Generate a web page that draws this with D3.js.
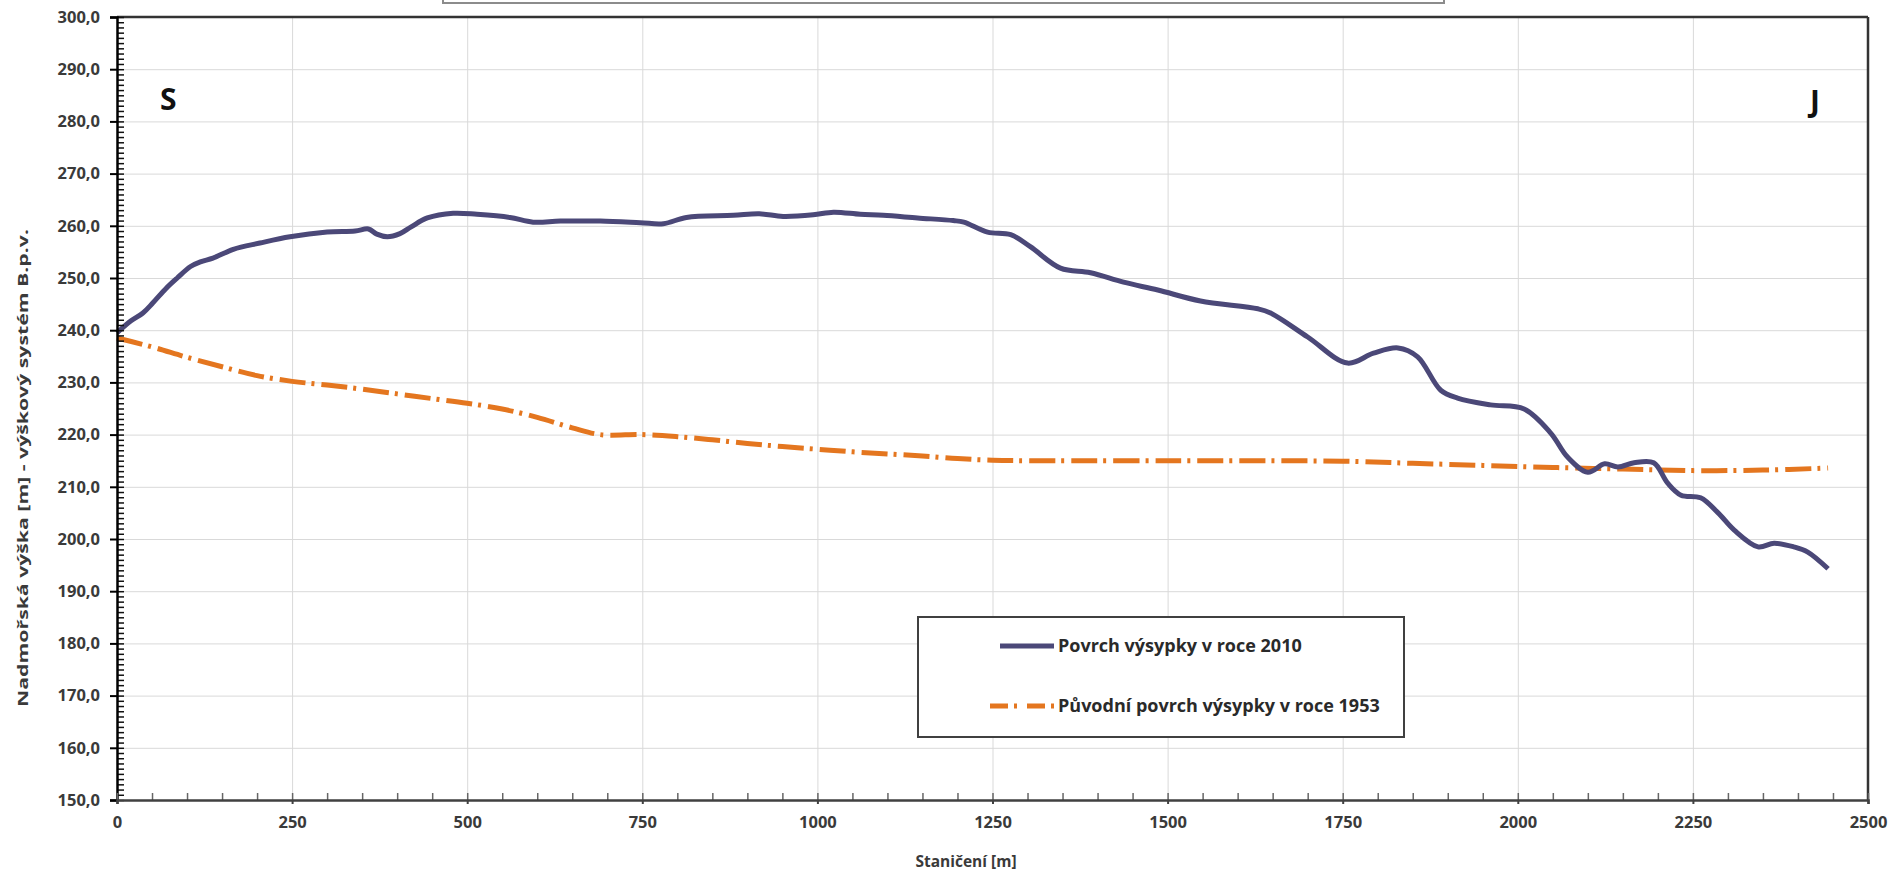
<!doctype html>
<html lang="cs">
<head>
<meta charset="utf-8">
<title>Profil výsypky</title>
<script src="https://d3js.org/d3.v7.min.js"></script>
<style>
  body { margin: 0; background: #fff; }
  text { font-family: "Open Sans", "DejaVu Sans", sans-serif; font-weight: bold; fill: #3a3a3a; }
  .grid line { stroke: #d9d9d9; stroke-width: 1; }
  .grid path { display: none; }
</style>
</head>
<body>
<svg id="chart" width="1893" height="872"></svg>
<script>
// povrch 2010 (stanicni, vyska)
var stations2010 = [0, 20, 37, 51, 70, 86, 105, 119, 137, 166, 204, 247, 300, 340, 359, 371, 386, 404, 420, 443,
  480, 514, 561, 594, 633, 690, 747, 780, 813, 880, 917, 951, 994, 1023, 1061, 1094, 1143, 1194, 1209, 1243,
  1276, 1304, 1347, 1390, 1437, 1486, 1547, 1629, 1647, 1700, 1757, 1794, 1829, 1857, 1890, 1914, 1961, 2009,
  2047, 2071, 2100, 2124, 2143, 2166, 2194, 2214, 2233, 2261, 2286, 2309, 2343, 2366, 2394, 2414, 2443];
var elev2010 = [239.5, 241.8, 243.3, 245.2, 248.0, 250.0, 252.2, 253.1, 253.8, 255.5, 256.7, 257.9, 258.8, 259.0, 259.4, 258.4, 257.9, 258.5, 259.8, 261.5,
  262.4, 262.2, 261.6, 260.7, 260.9, 260.9, 260.6, 260.4, 261.6, 262.0, 262.3, 261.8, 262.1, 262.6, 262.2, 262.0, 261.5, 261.0, 260.7, 258.8,
  258.3, 256.0, 251.9, 251.0, 249.2, 247.7, 245.6, 244.1, 243.3, 238.7, 233.7, 235.6, 236.6, 234.9, 228.5, 227.0, 225.7, 224.9,
  220.3, 215.7, 212.8, 214.4, 213.8, 214.6, 214.6, 210.7, 208.4, 207.9, 205.0, 201.7, 198.5, 199.2, 198.5, 197.5, 194.3];

// puvodni povrch 1953
var stations1953 = [0, 50, 100, 150, 200, 250, 300, 350, 400, 450, 500, 550, 600, 650, 690, 750, 800, 850, 900, 950,
  1000, 1050, 1100, 1150, 1200, 1250, 1300, 1500, 1750, 1850, 1950, 2050, 2150, 2250, 2350, 2443];
var elev1953 = [238.5, 236.8, 234.8, 233.0, 231.3, 230.2, 229.5, 228.7, 227.8, 226.9, 226.0, 224.9, 223.3, 221.3, 220.0, 220.0, 219.6, 219.0, 218.3, 217.7,
  217.2, 216.7, 216.3, 215.9, 215.4, 215.1, 215.0, 215.0, 214.9, 214.5, 214.1, 213.7, 213.4, 213.1, 213.2, 213.6];

var xTicks = [0, 250, 500, 750, 1000, 1250, 1500, 1750, 2000, 2250, 2500];
var yTicks = [150, 160, 170, 180, 190, 200, 210, 220, 230, 240, 250, 260, 270, 280, 290, 300];
var seriesNames = ["Povrch výsypky v roce 2010", "Původní povrch výsypky v roce 1953"];

var svg = d3.select("#chart");
var pLeft = 117, pTop = 17, pRight = 1868, pBottom = 800;

var x = d3.scaleLinear().domain([0, 2500]).range([pLeft, pRight]);
var y = d3.scaleLinear().domain([150, 300]).range([pBottom, pTop]);

// zbytek ramecku nadpisu nahore
svg.append("rect").attr("x", 443).attr("y", -20).attr("width", 1001).attr("height", 23)
  .attr("fill", "#fff").attr("stroke", "#8c8c8c").attr("stroke-width", 2);

// mrizka
svg.append("g").attr("class", "grid").attr("transform", "translate(0," + pBottom + ")")
  .call(d3.axisBottom(x).tickValues(xTicks.slice(1)).tickSize(-(pBottom - pTop)).tickFormat(""));
svg.append("g").attr("class", "grid").attr("transform", "translate(" + pLeft + ",0)")
  .call(d3.axisLeft(y).tickValues(yTicks.slice(1)).tickSize(-(pRight - pLeft)).tickFormat(""));

// horni a pravy okraj
svg.append("line").attr("x1", pLeft).attr("x2", pRight).attr("y1", pTop).attr("y2", pTop)
  .attr("stroke", "#333").attr("stroke-width", 2.5);
svg.append("line").attr("x1", pRight).attr("x2", pRight).attr("y1", pTop).attr("y2", pBottom)
  .attr("stroke", "#333").attr("stroke-width", 2.5);

// linie
var line = d3.line().x(function(d) { return x(d[0]); }).y(function(d) { return y(d[1]); })
  .curve(d3.curveCatmullRom.alpha(0.5));

svg.append("path").datum(d3.zip(stations1953, elev1953))
  .attr("d", line).attr("fill", "none").attr("stroke", "#e4761f").attr("stroke-width", 5)
  .attr("stroke-dasharray", "26,6,3,7");
svg.append("path").datum(d3.zip(stations2010, elev2010))
  .attr("d", line).attr("fill", "none").attr("stroke", "#4b4878").attr("stroke-width", 5)
  .attr("stroke-linejoin", "round");

// osa y
var minorY = d3.range(150, 301, 1);
svg.append("g").attr("transform", "translate(" + pLeft + ",0)")
  .call(d3.axisRight(y).tickValues(minorY).tickSize(7).tickFormat(""))
  .call(function(g) { g.select(".domain").remove(); g.selectAll("line").attr("stroke", "#111").attr("stroke-width", 1.5); });
var yAxis = svg.append("g").attr("transform", "translate(" + pLeft + ",0)")
  .call(d3.axisLeft(y).tickValues(yTicks).tickSize(7).tickPadding(10)
    .tickFormat(function(d) { return d.toFixed(1).replace(".", ","); }));
yAxis.select(".domain").attr("stroke", "#000").attr("stroke-width", 2.5);
yAxis.selectAll("line").attr("stroke", "#000").attr("stroke-width", 2);
yAxis.selectAll("text").attr("font-size", 16.5).style("fill", "#3a3a3a");

// osa x
var minorX = d3.range(0, 2501, 50);
svg.append("g").attr("transform", "translate(0," + pBottom + ")")
  .call(d3.axisTop(x).tickValues(minorX).tickSize(7).tickFormat(""))
  .call(function(g) { g.select(".domain").remove(); g.selectAll("line").attr("stroke", "#666").attr("stroke-width", 1.5); });
var xAxis = svg.append("g").attr("transform", "translate(0," + pBottom + ")")
  .call(d3.axisBottom(x).tickValues(xTicks).tickSize(4).tickPadding(12).tickFormat(d3.format("d")));
xAxis.select(".domain").attr("stroke", "#404040").attr("stroke-width", 2.5);
xAxis.selectAll("line").attr("stroke", "#404040").attr("stroke-width", 2);
xAxis.selectAll("text").attr("font-size", 16.5).style("fill", "#3a3a3a");
svg.selectAll("g").attr("font-family", null);

// popisky os
svg.append("text").attr("x", 966).attr("y", 867).attr("text-anchor", "middle")
  .attr("font-size", 15.5).text("Staničení [m]");
svg.append("text").attr("transform", "translate(22,468) rotate(-90)")
  .attr("text-anchor", "middle").attr("dominant-baseline", "central")
  .attr("font-size", 15).attr("textLength", 478).attr("lengthAdjust", "spacingAndGlyphs")
  .text("Nadmořská výška [m] - výškový systém B.p.v.");

// svetove strany
svg.append("text").attr("x", 160).attr("y", 110).attr("font-size", 30).style("fill", "#111").text("S");
svg.append("text").attr("x", 1810).attr("y", 112).attr("font-size", 30).style("fill", "#111").text("J");

// legenda
var lg = svg.append("g");
lg.append("rect").attr("x", 918).attr("y", 617).attr("width", 486).attr("height", 120)
  .attr("fill", "#fff").attr("stroke", "#404040").attr("stroke-width", 2);
lg.append("line").attr("x1", 1000).attr("x2", 1054).attr("y1", 646).attr("y2", 646)
  .attr("stroke", "#4b4878").attr("stroke-width", 5);
lg.append("line").attr("x1", 990).attr("x2", 1054).attr("y1", 706).attr("y2", 706)
  .attr("stroke", "#e4761f").attr("stroke-width", 5).attr("stroke-dasharray", "18,6,3,10");
lg.selectAll("text.leg").data(seriesNames).enter().append("text")
  .attr("class", "leg").attr("x", 1058).attr("y", function(d, i) { return 652 + i * 60; })
  .attr("font-size", 18).style("fill", "#2a2a2a").text(function(d) { return d; });
</script>
</body>
</html>
